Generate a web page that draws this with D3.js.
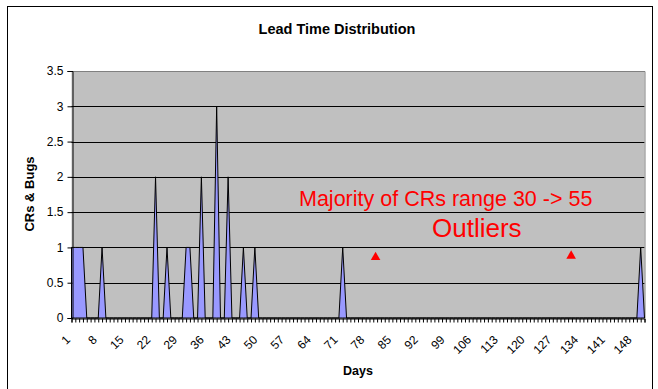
<!DOCTYPE html>
<html>
<head>
<meta charset="utf-8">
<script src="https://cdn.jsdelivr.net/npm/d3@7"></script>
<style>
  html, body { margin: 0; padding: 0; background: #fff; }
  svg { display: block; font-family: "Liberation Sans", Arial, sans-serif; }
</style>
</head>
<body>
<svg id="chart" width="658" height="389"></svg>
<script>
// Days on the category axis (1 .. 151)
const days = d3.range(1, 152);

// Number of CRs & bugs finished with each lead time (days 1 .. 151)
const counts = [
  1, 1, 1, 1, 0, 0, 0, 0, 1, 0,   // 1-10
  0, 0, 0, 0, 0, 0, 0, 0, 0, 0,   // 11-20
  0, 0, 2, 0, 0, 1, 0, 0, 0, 0,   // 21-30
  1, 1, 0, 0, 2, 0, 0, 0, 3, 0,   // 31-40
  0, 2, 0, 0, 0, 1, 0, 0, 1, 0,   // 41-50
  0, 0, 0, 0, 0, 0, 0, 0, 0, 0,   // 51-60
  0, 0, 0, 0, 0, 0, 0, 0, 0, 0,   // 61-70
  0, 1, 0, 0, 0, 0, 0, 0, 0, 0,   // 71-80
  0, 0, 0, 0, 0, 0, 0, 0, 0, 0,   // 81-90
  0, 0, 0, 0, 0, 0, 0, 0, 0, 0,   // 91-100
  0, 0, 0, 0, 0, 0, 0, 0, 0, 0,   // 101-110
  0, 0, 0, 0, 0, 0, 0, 0, 0, 0,   // 111-120
  0, 0, 0, 0, 0, 0, 0, 0, 0, 0,   // 121-130
  0, 0, 0, 0, 0, 0, 0, 0, 0, 0,   // 131-140
  0, 0, 0, 0, 0, 0, 0, 0, 0, 1,   // 141-150
  0                               // 151
];

// Labelled days on the x axis
const dayLabels = [1, 8, 15, 22, 29, 36, 43, 50, 57, 64, 71, 78, 85, 92, 99, 106, 113, 120, 127, 134, 141, 148];

// Value axis ticks
const valueTicks = [0, 0.5, 1, 1.5, 2, 2.5, 3, 3.5];

// Outlier markers (day, height)
const outlierDays = [80.6, 131.8];
const outlierValues = [0.86, 0.88];

const titleText = "Lead Time Distribution";
const xTitle = "Days";
const yTitle = "CRs & Bugs";
const noteMajority = "Majority of CRs range 30 -> 55";
const noteOutliers = "Outliers";

const svg = d3.select("#chart");
const plot = { left: 71.5, right: 644.5, top: 71, bottom: 318 };

const x = d3.scaleLinear().domain([1, 151]).range([plot.left, plot.right]);
const y = d3.scaleLinear().domain([0, 3.5]).range([plot.bottom, plot.top]);

// Chart frame
svg.append("rect")
  .attr("x", 7.5).attr("y", 6.5)
  .attr("width", 645).attr("height", 400)
  .attr("fill", "#fff").attr("stroke", "#000").attr("stroke-width", 1);

// Plot background
svg.append("rect")
  .attr("x", plot.left).attr("y", plot.top)
  .attr("width", plot.right - plot.left).attr("height", plot.bottom - plot.top)
  .attr("fill", "#C0C0C0");

// Horizontal gridlines
svg.append("g")
  .selectAll("line")
  .data(valueTicks.filter(v => v > 0 && v < 3.5))
  .join("line")
  .attr("x1", plot.left).attr("x2", plot.right)
  .attr("y1", d => Math.round(y(d)) + 0.5).attr("y2", d => Math.round(y(d)) + 0.5)
  .attr("stroke", "#000").attr("stroke-width", 1);

// Plot border (top / right)
svg.append("path")
  .attr("d", `M${plot.left},${plot.top + 0.5}H${plot.right + 0.5}V${plot.bottom}`)
  .attr("fill", "none").attr("stroke", "#808080").attr("stroke-width", 1);

// Area series
const area = d3.area()
  .x((d, i) => x(days[i]))
  .y0(y(0))
  .y1(d => y(d));

svg.append("path")
  .datum(counts)
  .attr("d", area)
  .attr("fill", "#9999FF")
  .attr("stroke", "#000")
  .attr("stroke-width", 1)
  .attr("stroke-linejoin", "miter");

// Y axis
const yAxis = d3.axisLeft(y)
  .tickValues(valueTicks)
  .tickFormat(d3.format("~g"))
  .tickSize(5)
  .tickPadding(4);

const gy = svg.append("g")
  .attr("transform", `translate(${Math.round(plot.left) + 0.5},0)`)
  .call(yAxis);
gy.select(".domain").attr("stroke", "#000");
gy.selectAll(".tick line").attr("stroke", "#000");
gy.selectAll(".tick text")
  .attr("font-size", 12)
  .attr("font-family", "Liberation Sans, Arial, sans-serif")
  .attr("fill", "#000");

// X axis: a tick mark at every day, labels every 7 days
const xAxis = d3.axisBottom(x)
  .tickValues(days)
  .tickSize(4)
  .tickFormat(d => dayLabels.includes(d) ? d : "");

const gx = svg.append("g")
  .attr("transform", `translate(0,${Math.round(plot.bottom) + 0.5})`)
  .call(xAxis);
gx.select(".domain").attr("stroke", "#000");
gx.selectAll(".tick line").attr("stroke", "#000");
gx.selectAll(".tick text")
  .attr("font-size", 12)
  .attr("font-family", "Liberation Sans, Arial, sans-serif")
  .attr("fill", "#000")
  .attr("text-anchor", "end")
  .attr("dy", null)
  .attr("y", 0)
  .attr("transform", "translate(-1,22) rotate(-45)");

// Titles
svg.append("text")
  .attr("x", 337).attr("y", 34)
  .attr("text-anchor", "middle")
  .attr("font-size", 14.5).attr("font-weight", "bold")
  .text(titleText);

svg.append("text")
  .attr("x", 358).attr("y", 375)
  .attr("text-anchor", "middle")
  .attr("font-size", 12.5).attr("font-weight", "bold")
  .text(xTitle);

svg.append("text")
  .attr("transform", "translate(34,194) rotate(-90)")
  .attr("text-anchor", "middle")
  .attr("font-size", 13).attr("font-weight", "bold")
  .text(yTitle);

// Annotations
svg.append("text")
  .attr("x", 299).attr("y", 206)
  .attr("font-size", 21.5).attr("fill", "#FF0000")
  .text(noteMajority);

svg.append("text")
  .attr("x", 432).attr("y", 237)
  .attr("font-size", 26).attr("fill", "#FF0000")
  .text(noteOutliers);

const tri = d3.symbol().type(d3.symbolTriangle).size(40);
svg.append("g")
  .selectAll("path")
  .data(outlierDays)
  .join("path")
  .attr("d", tri)
  .attr("transform", (d, i) => `translate(${x(d)},${y(outlierValues[i])})`)
  .attr("fill", "#FF0000");
</script>
</body>
</html>
